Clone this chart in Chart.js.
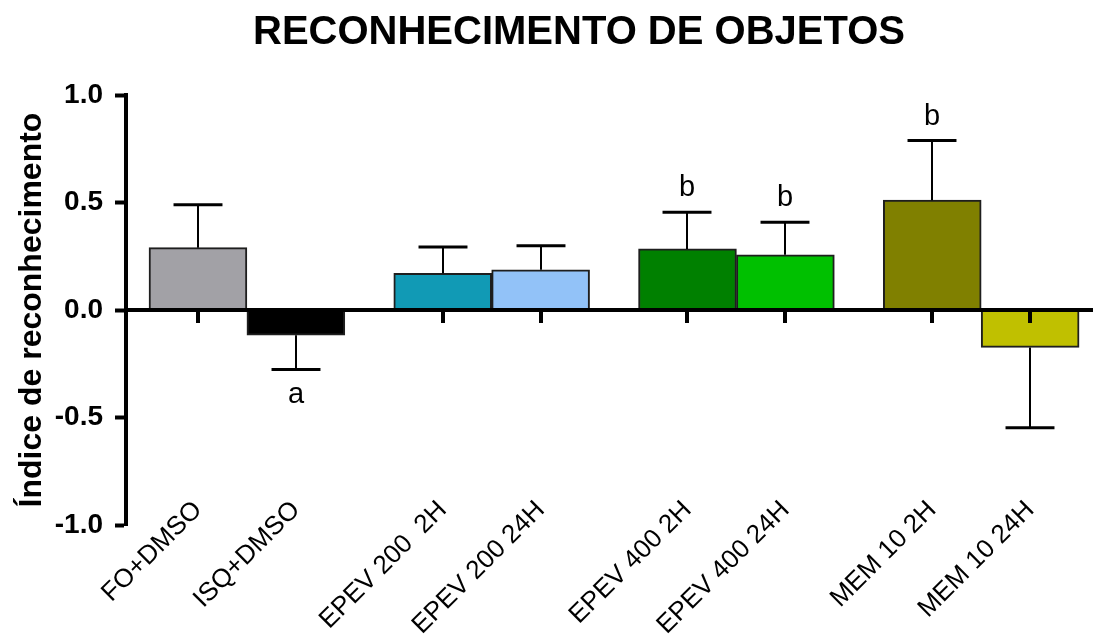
<!DOCTYPE html>
<html>
<head>
<meta charset="utf-8">
<script src="https://cdn.jsdelivr.net/npm/chart.js@4/dist/chart.umd.min.js"></script>
<style>
  html, body { margin: 0; padding: 0; background: #ffffff; }
  #wrap { width: 1095px; height: 636px; }
</style>
</head>
<body>
<div id="wrap"><canvas id="c"></canvas></div>
<script>
// Groups, their slot on the x axis (pairs separated by a gap), means and SEM
const groups = ['FO+DMSO', 'ISQ+DMSO', 'EPEV 200  2H', 'EPEV 200 24H', 'EPEV 400 2H', 'EPEV 400 24H', 'MEM 10 2H', 'MEM 10 24H'];
const slots = [0, 1, 2.5, 3.5, 5, 6, 7.5, 8.5];
const means = [0.290, -0.117, 0.171, 0.187, 0.284, 0.257, 0.511, -0.174];
const sems = [0.200, 0.160, 0.122, 0.112, 0.171, 0.151, 0.277, 0.374];
const letters = ['', 'a', '', '', 'b', 'b', 'b', ''];
const colors = ['#a2a1a6', '#000000', '#119ab5', '#92c2f8', '#008000', '#00c000', '#808000', '#c0c000'];
const yTicks = [-1, -0.5, 0, 0.5, 1];
const titleText = 'RECONHECIMENTO DE OBJETOS';
const yTitle = 'Índice de reconhecimento';

const FONT = '"Liberation Sans", Arial, Helvetica, sans-serif';

// Zero line with its tick marks, SEM whiskers and significance letters
const marks = {
  id: 'marks',
  afterDatasetsDraw(chart) {
    const { ctx, chartArea, scales: { x, y } } = chart;
    const y0 = y.getPixelForValue(0);
    ctx.save();
    ctx.strokeStyle = '#000';
    ctx.lineCap = 'butt';

    // whiskers
    const half = (x.getPixelForValue(1) - x.getPixelForValue(0)) / 4;
    means.forEach((m, i) => {
      const px = Math.round(x.getPixelForValue(slots[i]));
      const yBar = y.getPixelForValue(m);
      const yEnd = y.getPixelForValue(m >= 0 ? m + sems[i] : m - sems[i]);
      ctx.lineWidth = 2;
      ctx.beginPath();
      ctx.moveTo(px, yBar);
      ctx.lineTo(px, yEnd);
      ctx.stroke();
      ctx.lineWidth = 3;
      ctx.beginPath();
      ctx.moveTo(px - half, yEnd);
      ctx.lineTo(px + half, yEnd);
      ctx.stroke();
      if (letters[i]) {
        ctx.fillStyle = '#000';
        ctx.font = '29px ' + FONT;
        ctx.textAlign = 'center';
        ctx.textBaseline = 'alphabetic';
        ctx.fillText(letters[i], px, m >= 0 ? yEnd - 16 : yEnd + 33);
      }
    });

    // zero line
    ctx.lineWidth = 4;
    ctx.beginPath();
    ctx.moveTo(chartArea.left, y0);
    ctx.lineTo(chartArea.right, y0);
    ctx.stroke();

    // tick marks under the zero line
    slots.forEach(s => {
      const px = Math.round(x.getPixelForValue(s));
      ctx.beginPath();
      ctx.moveTo(px, y0);
      ctx.lineTo(px, y0 + 13);
      ctx.stroke();
    });
    ctx.restore();
  },
  afterDraw(chart) {
    const { ctx } = chart;
    ctx.save();
    ctx.fillStyle = '#000';
    ctx.font = 'bold 40px ' + FONT;
    ctx.textAlign = 'center';
    ctx.textBaseline = 'alphabetic';
    ctx.fillText(titleText, 579, 44);
    ctx.restore();
  }
};

new Chart(document.getElementById('c'), {
  type: 'bar',
  data: {
    datasets: [{
      data: slots.map((s, i) => ({ x: s, y: means[i] })),
      backgroundColor: colors,
      borderColor: '#1e1e1e',
      borderWidth: 2,
      barPercentage: 1,
      categoryPercentage: 1
    }]
  },
  options: {
    responsive: true,
    maintainAspectRatio: false,
    animation: false,
    layout: { padding: { top: 95, left: 0, right: 2, bottom: 111 } },
    plugins: {
      legend: { display: false },
      tooltip: { enabled: false },
      title: { display: false }
    },
    scales: {
      x: {
        type: 'linear',
        position: { y: -0.86 },
        min: -0.735,
        max: 9.142,
        offset: false,
        grid: { display: false, drawTicks: false },
        border: { display: false },
        afterBuildTicks: s => { s.ticks = slots.map(v => ({ value: v })); },
        ticks: {
          autoSkip: false,
          minRotation: 45,
          maxRotation: 45,
          padding: 0,
          color: '#000',
          font: { family: FONT, size: 26 },
          callback: (v, i) => groups[i]
        }
      },
      y: {
        min: -1,
        max: 1,
        afterBuildTicks: s => { s.ticks = yTicks.map(v => ({ value: v })); },
        afterFit: s => { s.width = 126; },
        grid: { drawOnChartArea: false, drawTicks: true, tickLength: 11, tickWidth: 4, tickColor: '#000' },
        border: { display: true, width: 4, color: '#000' },
        ticks: {
          padding: 12,
          color: '#000',
          font: { family: FONT, size: 28, weight: 'bold' },
          callback: v => v.toFixed(1)
        },
        title: {
          display: true,
          text: yTitle,
          color: '#000',
          font: { family: FONT, size: 32, weight: 'bold' },
          padding: { top: 13, bottom: 0 }
        }
      }
    }
  },
  plugins: [marks]
});
</script>
</body>
</html>
